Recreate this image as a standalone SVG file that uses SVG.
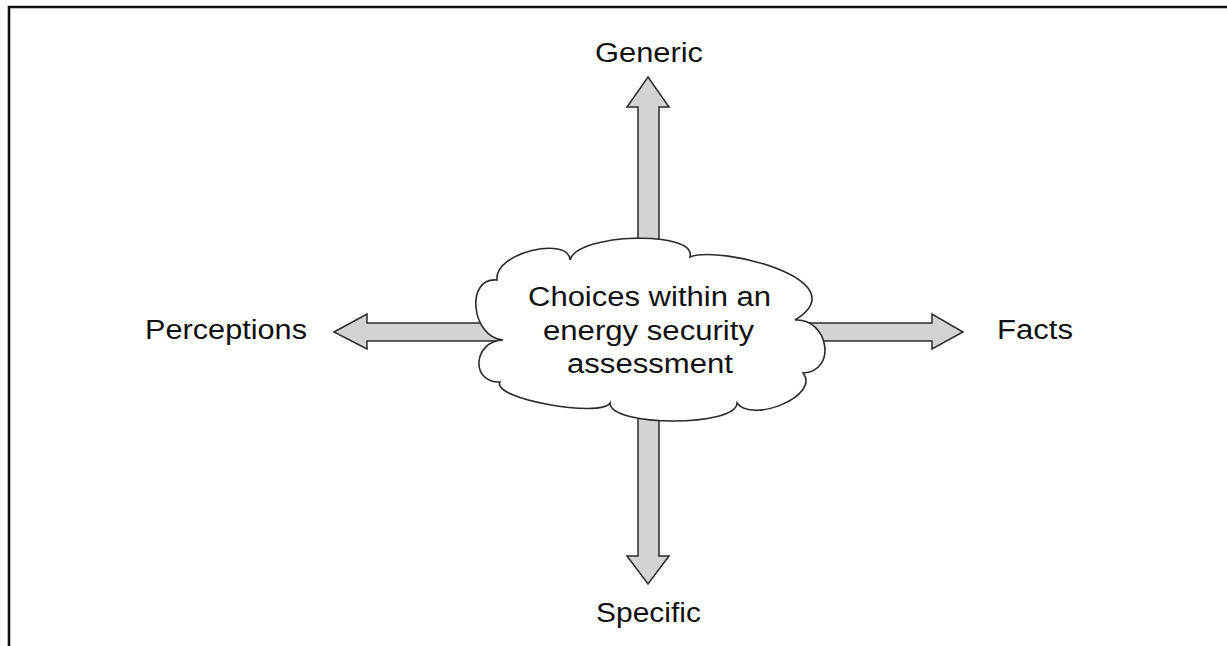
<svg xmlns="http://www.w3.org/2000/svg" width="1227" height="646" viewBox="0 0 1227 646">
<style>
.arrow{fill:#d3d3d5;stroke:#2a2a2a;stroke-width:1.5;stroke-linejoin:miter}
.cloud{fill:#ffffff;stroke:#2a2a2a;stroke-width:1.6}
.lbl{font-family:"Liberation Sans",Arial,sans-serif;font-size:27px;fill:#111111}
</style>
<rect width="1227" height="646" fill="#ffffff"/>
<path d="M9,646 V7 H1227" fill="none" stroke="#111111" stroke-width="2.6"/>
<g id="connectors">
<polygon class="arrow" points="648,77 669,107 659,107 659,262 638,262 638,107 627,107"/>
<polygon class="arrow" points="638,400 659,400 659,556 669,556 648,584 627,556 638,556"/>
<polygon class="arrow" points="334,332 367,314 367,323 512,323 512,341 367,341 367,349"/>
<polygon class="arrow" points="780,323 932,323 932,314 963,332 932,349 932,341 780,341"/>
</g>
<g id="center">
<path class="cloud" d="M503,340 C471,337 465,277 497,280 C494,252 569,236 570,260 C577,233 697,230 690,257 C720,245 860,280 795,320 C828,318 838,371 803,373 C821,395 753,424 737,403 C737,427 610,427 610,403 C601,418 491,399 500,382 C470,383 473,341 503,340 Z"/>
<text class="lbl" x="528" y="306" textLength="243" lengthAdjust="spacingAndGlyphs">Choices within an</text>
<text class="lbl" x="543" y="340" textLength="211" lengthAdjust="spacingAndGlyphs">energy security</text>
<text class="lbl" x="567" y="373" textLength="166" lengthAdjust="spacingAndGlyphs">assessment</text>
</g>
<g id="generic"><text class="lbl" x="595" y="62" textLength="108" lengthAdjust="spacingAndGlyphs">Generic</text></g>
<g id="specific"><text class="lbl" x="596" y="622" textLength="105" lengthAdjust="spacingAndGlyphs">Specific</text></g>
<g id="perceptions"><text class="lbl" x="145" y="339" textLength="162" lengthAdjust="spacingAndGlyphs">Perceptions</text></g>
<g id="facts"><text class="lbl" x="997" y="339" textLength="76" lengthAdjust="spacingAndGlyphs">Facts</text></g>
</svg>
